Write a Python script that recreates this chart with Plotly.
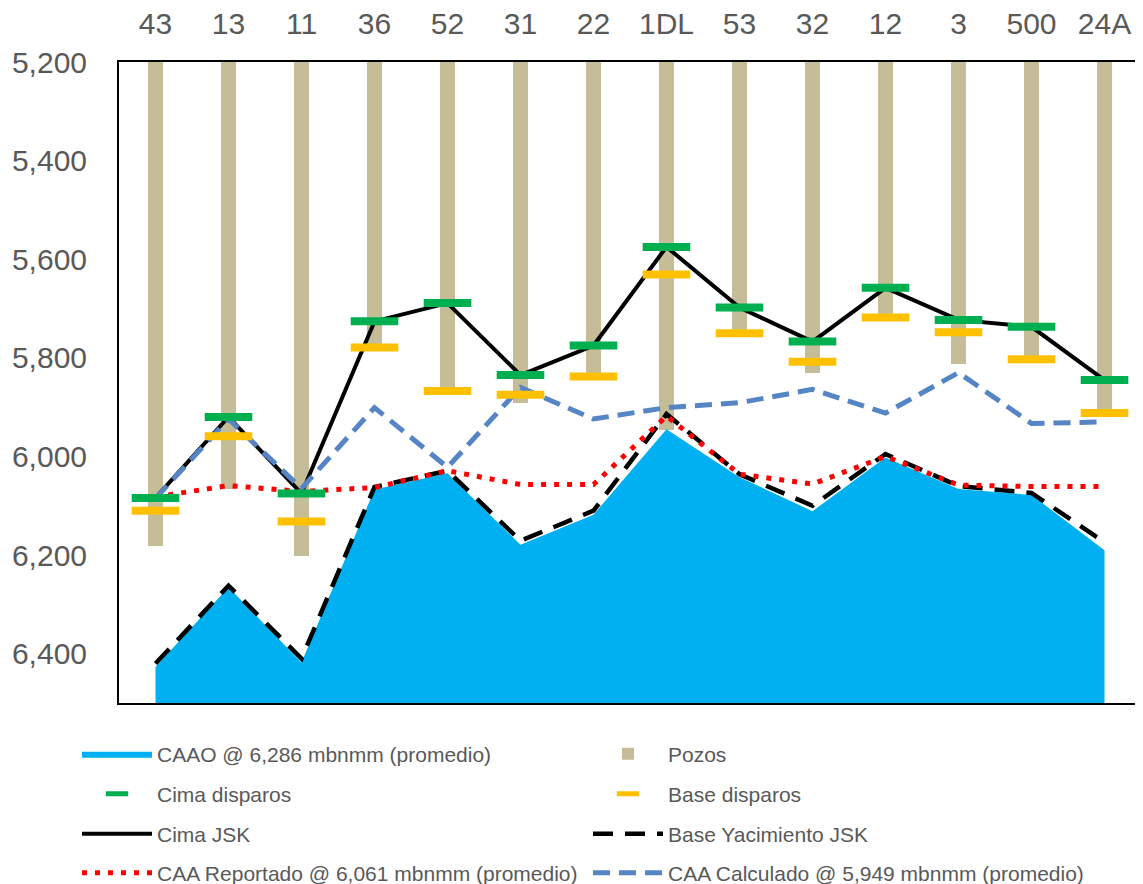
import plotly.graph_objects as go

# ---------------- data ----------------
pozos = ["43", "13", "11", "36", "52", "31", "22", "1DL", "53", "32", "12", "3", "500", "24A"]

pozo_fondo = [6181, 6066, 6202, 5780, 5866, 5891, 5845, 5946, 5748, 5830, 5716, 5813, 5803, 5910]
cima_disparos = [6084, 5920, 6075, 5726, 5689, 5835, 5775, 5575, 5698, 5767, 5658, 5723, 5737, 5845]
base_disparos = [6110, 5959, 6132, 5779, 5867, 5875, 5838, 5631, 5750, 5808, 5718, 5748, 5803, 5912]
cima_jsk = [6084, 5920, 6075, 5726, 5689, 5835, 5775, 5575, 5698, 5767, 5658, 5723, 5737, 5845]
base_yac_jsk = [6420, 6262, 6410, 6062, 6029, 6171, 6110, 5914, 6036, 6100, 5995, 6060, 6074, 6174]
caao = [6427, 6265, 6418, 6067, 6034, 6179, 6118, 5945, 6042, 6111, 6002, 6066, 6078, 6190]
caa_reportado = [6082, 6059, 6071, 6063, 6029, 6057, 6057, 5918, 6036, 6056, 6000, 6058, 6061, 6061]
caa_calculado = [6085, 5924, 6065, 5901, 6022, 5860, 5924, 5901, 5891, 5864, 5912, 5830, 5933, 5930]

y_ticks = [5200, 5400, 5600, 5800, 6000, 6200, 6400]
Y_TOP, Y_FLOOR = 5200, 6500

# ---------------- style ----------------
FONT = "Liberation Sans, Arial, sans-serif"
GRAY = "#595959"

fig = go.Figure()

# invisible floor for the area fill (Excel area fills to the axis floor)
fig.add_trace(go.Scatter(x=pozos, y=[Y_FLOOR] * len(pozos), mode="lines",
                         line=dict(width=0, color="rgba(0,0,0,0)"),
                         showlegend=False, hoverinfo="skip"))
fig.add_trace(go.Scatter(x=pozos, y=caao, mode="lines", fill="tonexty",
                         fillcolor="#00B0F0", line=dict(width=0, color="#00B0F0"),
                         name="CAAO @ 6,286 mbnmm (promedio)", legend="legend"))
fig.add_trace(go.Bar(x=pozos, y=pozo_fondo, width=0.2, marker=dict(color="#C4BD97", line=dict(width=0)),
                     name="Pozos", legend="legend2"))
fig.add_trace(go.Scatter(x=pozos, y=cima_jsk, mode="lines", line=dict(color="black", width=4),
                         name="Cima JSK", legend="legend5"))
fig.add_trace(go.Scatter(x=pozos, y=base_yac_jsk, mode="lines",
                         line=dict(color="black", width=4.5, dash="20px,12px"),
                         name="Base Yacimiento JSK", legend="legend6"))
fig.add_trace(go.Scatter(x=pozos, y=caa_reportado, mode="lines",
                         line=dict(color="#FF0000", width=5, dash="5px,8px"),
                         name="CAA Reportado @ 6,061 mbnmm (promedio)", legend="legend7"))
fig.add_trace(go.Scatter(x=pozos, y=caa_calculado, mode="lines",
                         line=dict(color="#5585C4", width=5, dash="17px,9px"),
                         name="CAA Calculado @ 5,949 mbnmm (promedio)", legend="legend8"))
fig.add_trace(go.Scatter(x=pozos, y=cima_disparos, mode="markers",
                         marker=dict(symbol="line-ew", size=34, line=dict(width=8, color="#00B050")),
                         name="Cima disparos", legend="legend3"))
fig.add_trace(go.Scatter(x=pozos, y=base_disparos, mode="markers",
                         marker=dict(symbol="line-ew", size=34, line=dict(width=8, color="#FFC000")),
                         name="Base disparos", legend="legend4"))

# page has an 8px body margin: figure is 1135x876 placed at (8,8)
OFF = 8
FW, FH = 1143 - OFF, 884 - OFF
# plot area in page px: x 119..1141, y 62..703
L, R, T, B = 119 - OFF, 1141 - OFF, 62 - OFF, 703 - OFF
W, H = R - L, B - T


def px_x(px):
    return (px - OFF - L) / W


def px_y(py):
    return (B - (py - OFF)) / H


col_x = [px_x(77), px_x(588)]
row_y = [px_y(754), px_y(794), px_y(834), px_y(873)]

legend_common = dict(bgcolor="rgba(0,0,0,0)", borderwidth=0, itemwidth=70,
                     font=dict(family=FONT, size=21, color=GRAY),
                     xanchor="left", yanchor="middle", orientation="v")
layout_legends = {}
names = ["legend", "legend2", "legend3", "legend4", "legend5", "legend6", "legend7", "legend8"]
for i, nm in enumerate(names):
    layout_legends[nm] = dict(x=col_x[i % 2], y=row_y[i // 2], **legend_common)

fig.update_layout(
    width=FW, height=FH,
    margin=dict(l=L, r=FW - R, t=T, b=FH - B, autoexpand=False),
    paper_bgcolor="white", plot_bgcolor="white",
    font=dict(family=FONT, color=GRAY),
    bargap=0,
    **layout_legends,
)
fig.update_xaxes(type="category", side="top", showgrid=False, ticks="",
                 tickfont=dict(family=FONT, size=30, color=GRAY),
                 showline=True, mirror=True, linecolor="black", linewidth=2,
                 ticklabelstandoff=14, range=[-0.5, len(pozos) - 0.5])
fig.update_yaxes(range=[Y_FLOOR, Y_TOP], tickvals=y_ticks, tickformat=",d", showgrid=False,
                 zeroline=False, ticks="", tickfont=dict(family=FONT, size=30, color=GRAY),
                 showline=True, mirror=True, linecolor="black", linewidth=2,
                 ticklabelstandoff=24)

fig.write_html("out.html")
